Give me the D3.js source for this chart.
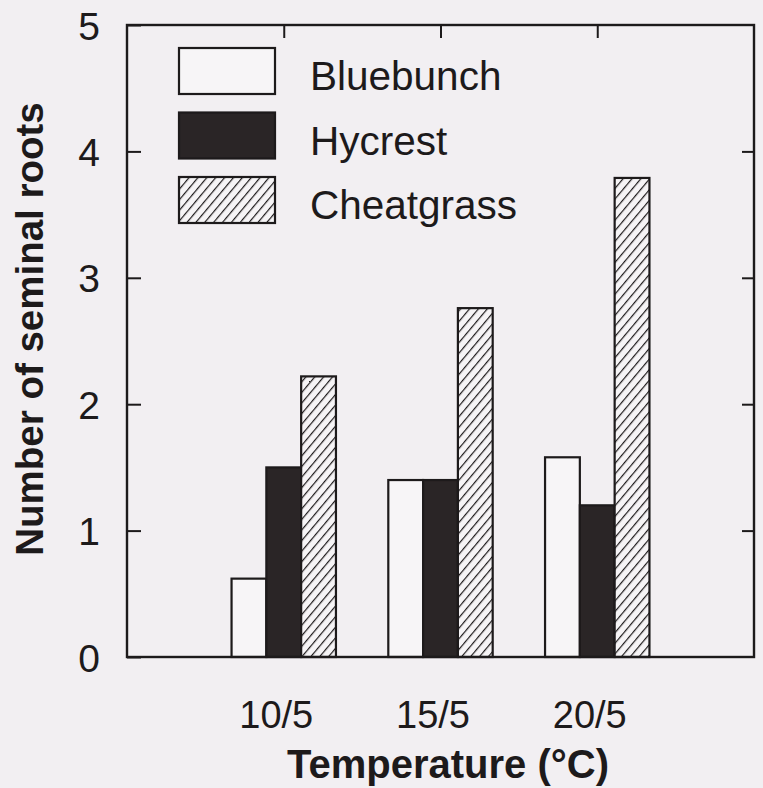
<!DOCTYPE html>
<html>
<head>
<meta charset="utf-8">
<script src="https://cdn.jsdelivr.net/npm/d3@7"></script>
<style>
  body { margin: 0; background: #f2eff2; }
  svg { display: block; font-family: "Liberation Sans", Arial, Helvetica, sans-serif; }
</style>
</head>
<body>
<script>
// temperatures (day/night) and seminal root counts per species
var categories = ["10/5", "15/5", "20/5"];
var species = ["Bluebunch", "Hycrest", "Cheatgrass"];
var bluebunch = [0.62, 1.40, 1.58];
var hycrest = [1.50, 1.40, 1.20];
var cheatgrass = [2.22, 2.76, 3.79];
var yTicks = [0, 1, 2, 3, 4, 5];

var series = [bluebunch, hycrest, cheatgrass];

var W = 763, H = 788;
var plotLeft = 127, plotRight = 754, plotTop = 25, plotBottom = 657;

var svg = d3.select("body")
    .append("svg")
    .attr("width", W)
    .attr("height", H);

// hatch for cheatgrass
var defs = svg.append("defs");
defs.append("pattern")
    .attr("id", "hatch")
    .attr("patternUnits", "userSpaceOnUse")
    .attr("width", 6.8)
    .attr("height", 8)
    .attr("patternTransform", "rotate(40)")
    .call(function(p) {
        p.append("rect").attr("width", 6.8).attr("height", 8).attr("fill", "#f6f4f6");
        p.append("line")
            .attr("x1", 0).attr("y1", 0).attr("x2", 0).attr("y2", 8)
            .attr("stroke", "#1d1a1b").attr("stroke-width", 2.4);
    });

var fills = ["#f7f5f7", "#2a2526", "url(#hatch)"];

var x = d3.scaleLinear().domain([0, 4]).range([plotLeft, plotRight]);
var y = d3.scaleLinear().domain([0, 5]).range([plotBottom, plotTop]);
var bw = (x(1) - x(0)) * 0.222;

// axes
var gl = svg.append("g")
    .attr("transform", "translate(" + plotLeft + ",0)")
    .call(d3.axisLeft(y).tickValues(yTicks).tickSize(-14).tickSizeOuter(0).tickPadding(27)
        .tickFormat(d3.format("d")));
gl.selectAll("text").style("font-size", "39px").attr("dy", "0.36em");

svg.append("g")
    .attr("transform", "translate(" + plotRight + ",0)")
    .call(d3.axisRight(y).tickValues([1, 2, 3, 4]).tickSize(-12).tickSizeOuter(0).tickFormat(""));

svg.append("g")
    .attr("transform", "translate(0," + plotTop + ")")
    .call(d3.axisTop(x).tickValues([1, 2, 3]).tickSize(-13).tickSizeOuter(0).tickFormat(""));

var gb = svg.append("g")
    .attr("transform", "translate(0," + plotBottom + ")")
    .call(d3.axisBottom(x).tickValues([1, 2, 3]).tickSize(-13).tickSizeOuter(0).tickPadding(44)
        .tickFormat(function(d) { return categories[d - 1]; }));
gb.selectAll("text").style("font-size", "38px").attr("dx", "-8");

svg.selectAll(".domain").remove();
svg.selectAll(".tick line").attr("stroke", "#1d1a1b").attr("stroke-width", 2);
svg.selectAll(".tick text").attr("fill", "#1d1a1b");

// bars
series.forEach(function(vals, j) {
    svg.selectAll(".bar" + j)
        .data(vals)
        .enter().append("rect")
        .attr("class", "bar" + j)
        .attr("x", function(d, i) { return x(i + 1) - 1.5 * bw + j * bw; })
        .attr("y", function(d) { return y(d); })
        .attr("width", bw)
        .attr("height", function(d) { return y(0) - y(d); })
        .attr("fill", fills[j])
        .attr("stroke", "#1d1a1b")
        .attr("stroke-width", 2.2);
});

// frame
svg.append("rect")
    .attr("x", plotLeft).attr("y", plotTop)
    .attr("width", plotRight - plotLeft).attr("height", plotBottom - plotTop)
    .attr("fill", "none")
    .attr("stroke", "#1d1a1b")
    .attr("stroke-width", 2.4);

// legend
var leg = svg.append("g");
species.forEach(function(s, j) {
    var ly = 48 + j * 64.5;
    leg.append("rect")
        .attr("x", 179).attr("y", ly)
        .attr("width", 96).attr("height", 46)
        .attr("fill", fills[j])
        .attr("stroke", "#1d1a1b")
        .attr("stroke-width", 2.2);
    leg.append("text")
        .attr("x", 310).attr("y", ly + 42)
        .style("font-size", "40.5px")
        .attr("fill", "#1d1a1b")
        .text(s);
});

// axis titles
svg.append("text")
    .attr("x", 448).attr("y", 778)
    .attr("text-anchor", "middle")
    .style("font-size", "40px")
    .style("font-weight", "bold")
    .attr("fill", "#1d1a1b")
    .text("Temperature (°C)");

svg.append("text")
    .attr("transform", "translate(43,329)rotate(-90)")
    .attr("text-anchor", "middle")
    .style("font-size", "38.5px")
    .style("font-weight", "bold")
    .attr("fill", "#1d1a1b")
    .text("Number of seminal roots");
</script>
</body>
</html>
